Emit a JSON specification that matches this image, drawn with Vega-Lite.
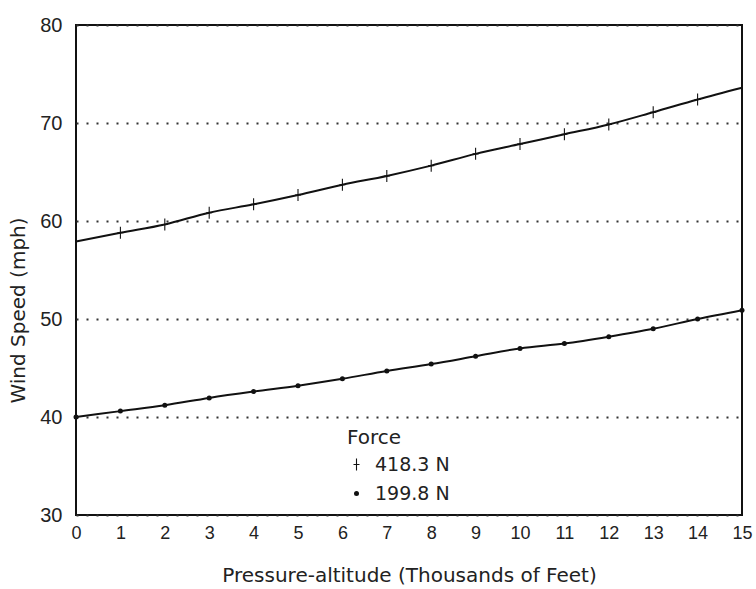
{
  "$schema": "https://vega.github.io/schema/vega-lite/v6.json",
  "width": 666,
  "height": 490,
  "autosize": {"type": "none"},
  "padding": {"left": 76, "top": 25, "right": 14, "bottom": 74},
  "background": "white",
  "config": {
    "view": {"stroke": "#111", "strokeWidth": 2},
    "font": "Liberation Sans",
    "axis": {"labelColor": "#222", "titleColor": "#222", "titleFontWeight": "normal", "domain": false, "ticks": false, "titleFont": "DejaVu Sans"}
  },
  "data": {
    "values": [
      {"alt": 0, "speed": 57.9, "force": "418.3 N"},
      {"alt": 1, "speed": 58.8, "force": "418.3 N"},
      {"alt": 2, "speed": 59.65, "force": "418.3 N"},
      {"alt": 3, "speed": 60.85, "force": "418.3 N"},
      {"alt": 4, "speed": 61.7, "force": "418.3 N"},
      {"alt": 5, "speed": 62.65, "force": "418.3 N"},
      {"alt": 6, "speed": 63.7, "force": "418.3 N"},
      {"alt": 7, "speed": 64.6, "force": "418.3 N"},
      {"alt": 8, "speed": 65.65, "force": "418.3 N"},
      {"alt": 9, "speed": 66.85, "force": "418.3 N"},
      {"alt": 10, "speed": 67.85, "force": "418.3 N"},
      {"alt": 11, "speed": 68.85, "force": "418.3 N"},
      {"alt": 12, "speed": 69.85, "force": "418.3 N"},
      {"alt": 13, "speed": 71.1, "force": "418.3 N"},
      {"alt": 14, "speed": 72.4, "force": "418.3 N"},
      {"alt": 15, "speed": 73.6, "force": "418.3 N"},
      {"alt": 0, "speed": 40.0, "force": "199.8 N"},
      {"alt": 1, "speed": 40.6, "force": "199.8 N"},
      {"alt": 2, "speed": 41.2, "force": "199.8 N"},
      {"alt": 3, "speed": 41.95, "force": "199.8 N"},
      {"alt": 4, "speed": 42.6, "force": "199.8 N"},
      {"alt": 5, "speed": 43.2, "force": "199.8 N"},
      {"alt": 6, "speed": 43.9, "force": "199.8 N"},
      {"alt": 7, "speed": 44.7, "force": "199.8 N"},
      {"alt": 8, "speed": 45.4, "force": "199.8 N"},
      {"alt": 9, "speed": 46.2, "force": "199.8 N"},
      {"alt": 10, "speed": 47.0, "force": "199.8 N"},
      {"alt": 11, "speed": 47.5, "force": "199.8 N"},
      {"alt": 12, "speed": 48.2, "force": "199.8 N"},
      {"alt": 13, "speed": 49.0, "force": "199.8 N"},
      {"alt": 14, "speed": 50.0, "force": "199.8 N"},
      {"alt": 15, "speed": 50.9, "force": "199.8 N"}
    ]
  },
  "encoding": {
    "x": {
      "field": "alt", "type": "quantitative",
      "scale": {"domain": [0, 15], "nice": false, "zero": false},
      "axis": {"title": "Pressure-altitude (Thousands of Feet)", "values": [0,1,2,3,4,5,6,7,8,9,10,11,12,13,14,15], "grid": false, "labelFontSize": 18, "labelPadding": 9, "titleFontSize": 20, "titlePadding": 23, "labelFlush": false}
    },
    "y": {
      "field": "speed", "type": "quantitative",
      "scale": {"domain": [30, 80], "nice": false, "zero": false},
      "axis": {"title": "Wind Speed (mph)", "values": [30,40,50,60,70,80], "grid": true, "gridDash": [2, 8], "gridWidth": 2, "gridColor": "#333", "labelFontSize": 20, "labelPadding": 14, "titleFontSize": 20, "titlePadding": 11, "titleY": 285, "labelFlush": false}
    }
  },
  "layer": [
    {
      "mark": {"type": "line", "color": "#111", "strokeWidth": 2, "interpolate": "monotone"},
      "encoding": {"detail": {"field": "force"}}
    },
    {
      "transform": [{"filter": "datum.force == '199.8 N' || (datum.alt >= 1 && datum.alt <= 14)"}],
      "mark": {"type": "point", "filled": true, "color": "#111", "opacity": 1},
      "encoding": {
        "shape": {
          "field": "force", "type": "nominal", "title": "Force",
          "scale": {"domain": ["418.3 N", "199.8 N"], "range": ["M-0.09,-1H0.09V-0.09H0.5V0.09H0.09V1H-0.09V0.09H-0.5V-0.09H-0.09Z", "circle"]},
          "legend": {"orient": "none", "legendX": 271, "legendY": 403, "titleFont": "DejaVu Sans", "labelFont": "DejaVu Sans", "titleFontSize": 20, "titleFontWeight": "normal", "titleColor": "#222", "labelFontSize": 19, "labelColor": "#222", "rowPadding": 9, "titlePadding": 7, "symbolFillColor": "#111", "symbolStrokeColor": "#111", "symbolStrokeWidth": 0, "labelOffset": 9}
        },
        "size": {
          "field": "force", "type": "nominal", "title": "Force",
          "scale": {"domain": ["418.3 N", "199.8 N"], "range": [144, 25]}
        }
      }
    }
  ]
}
